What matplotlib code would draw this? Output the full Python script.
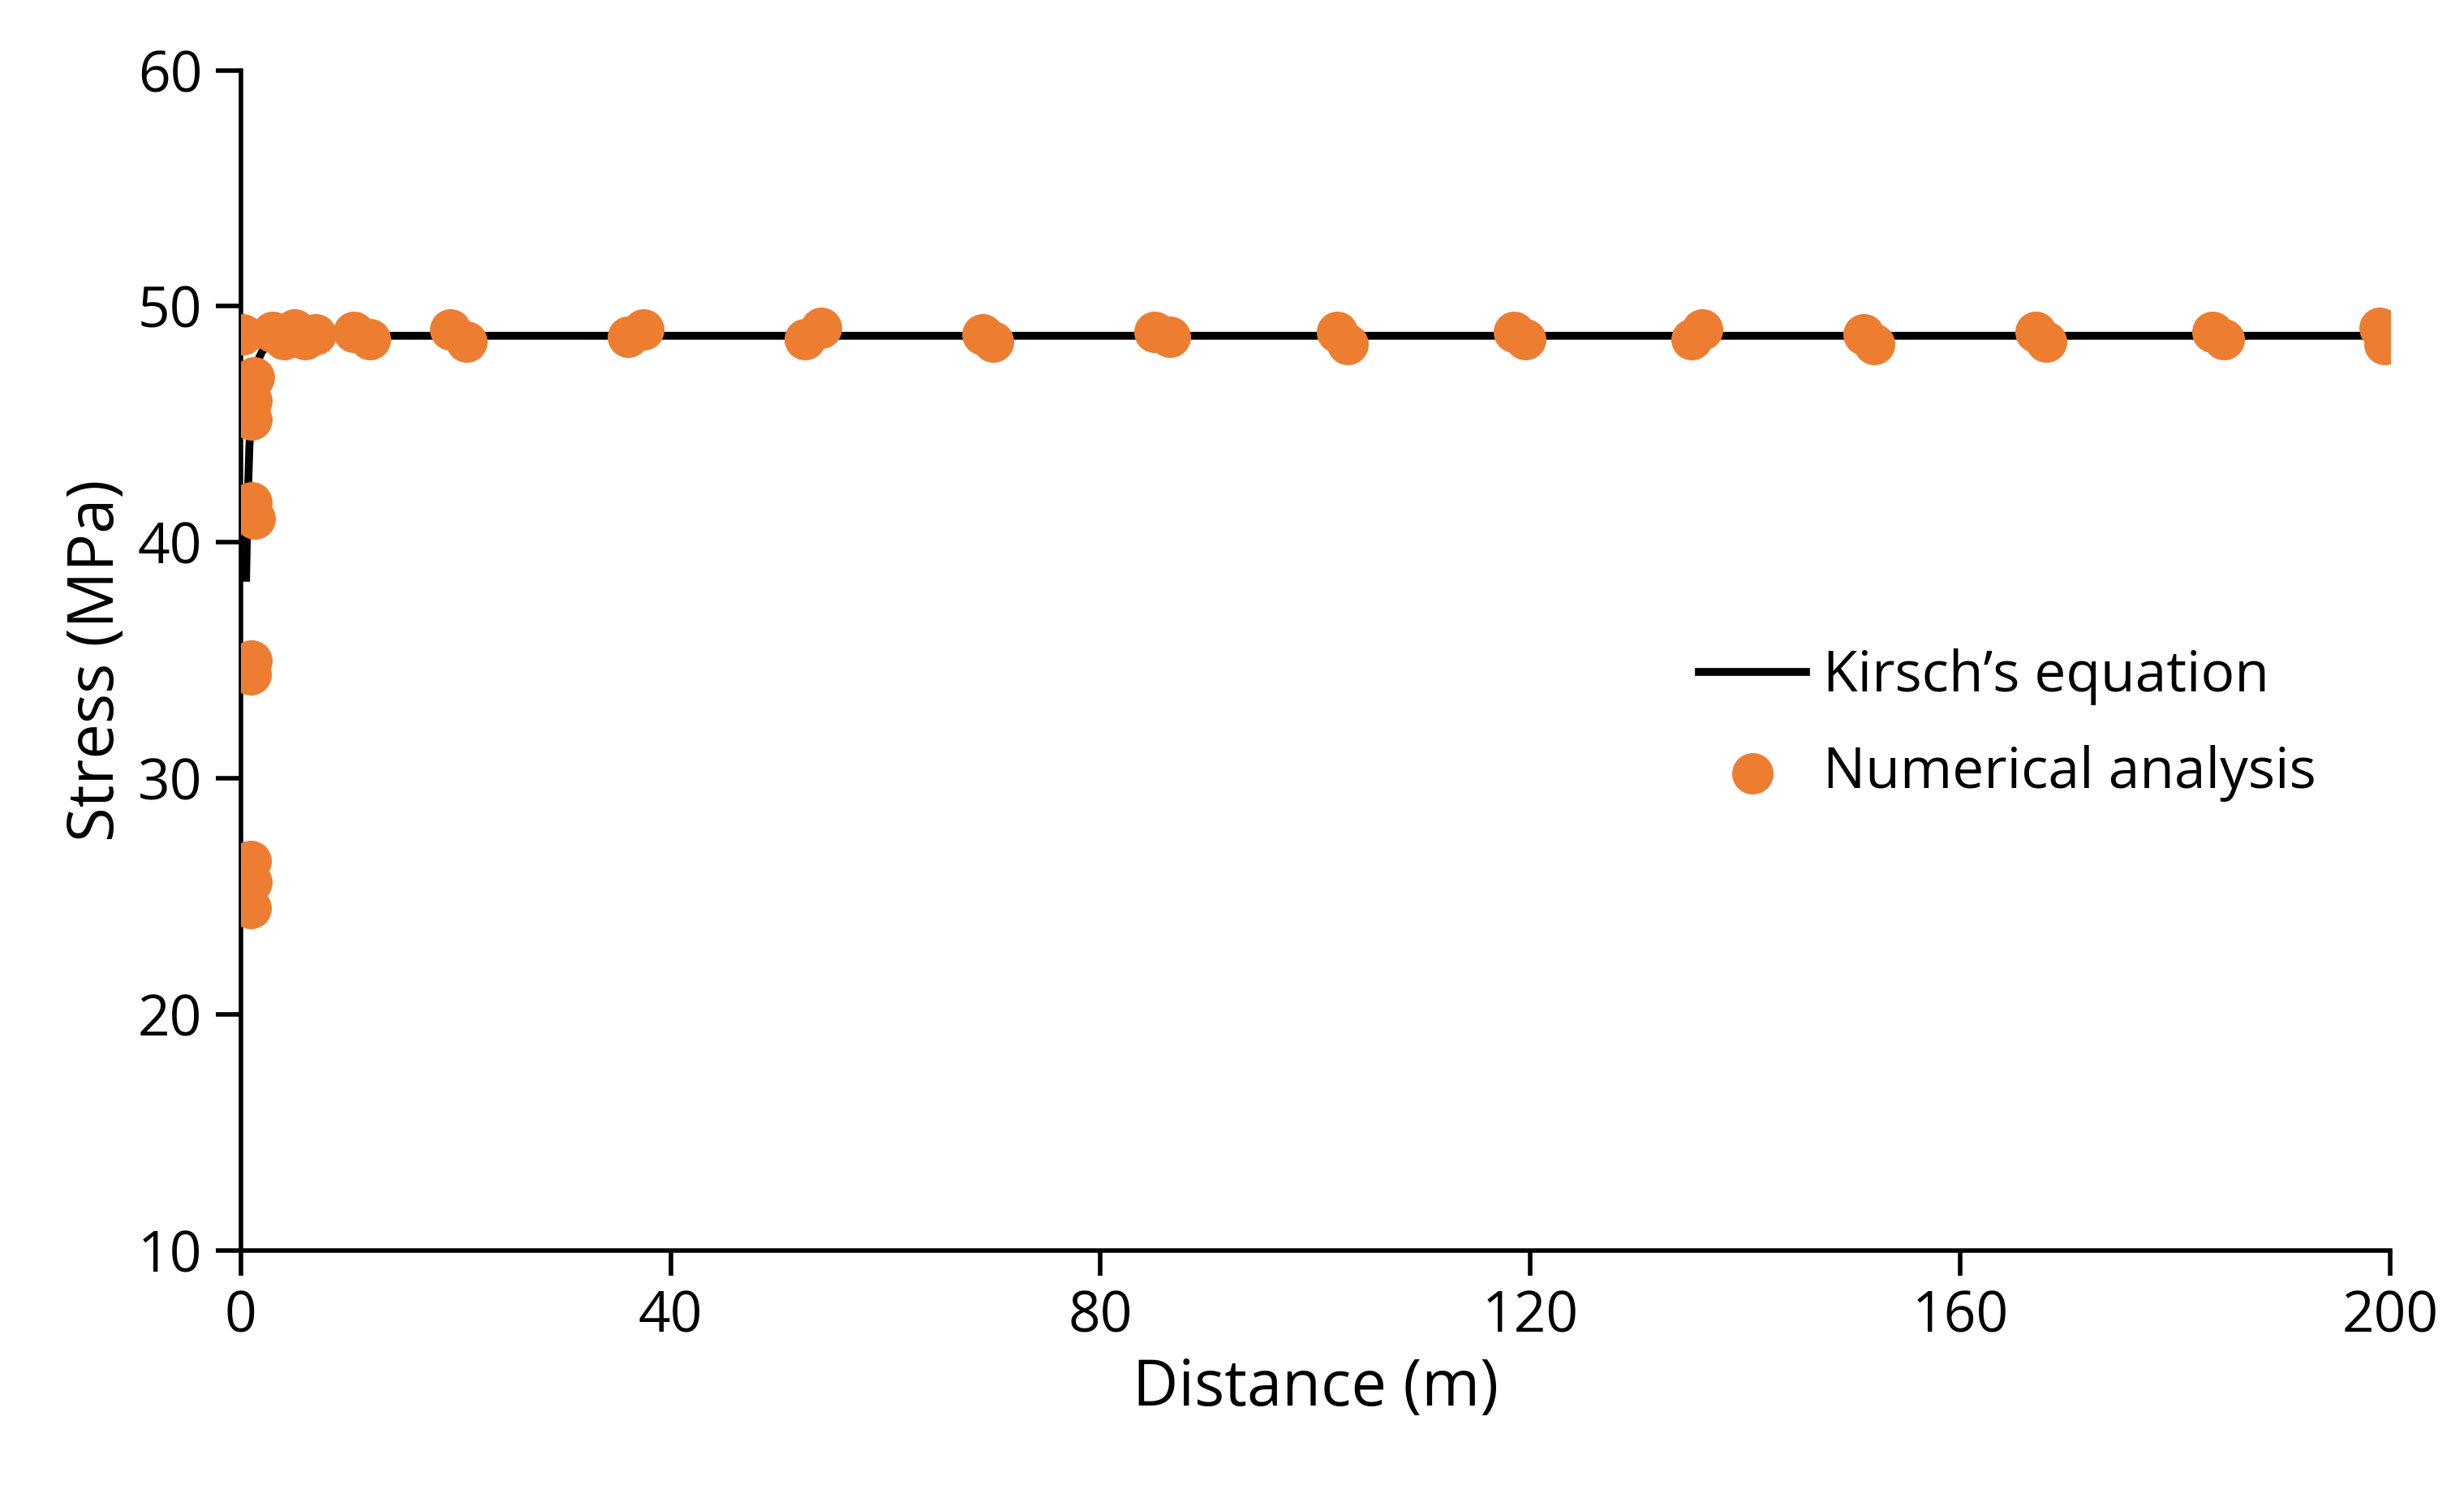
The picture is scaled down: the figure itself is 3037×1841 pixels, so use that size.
import matplotlib
matplotlib.use("Agg")
import matplotlib.pyplot as plt

plt.rcParams['font.family'] = ['Open Sans', 'DejaVu Sans']

kirsch_x = [0.5, 0.6, 0.8, 1.0, 1.3, 1.6, 2.0, 3.0, 5.0, 10, 50, 100, 150, 200]
kirsch_y = [38.5, 41.0, 44.0, 45.8, 47.0, 47.7, 48.1, 48.5, 48.7, 48.75, 48.75, 48.75, 48.75, 48.75]

num_x = [0.2, 1.0, 1.0, 1.2, 1.0, 1.3, 1.0, 0.9, 0.9, 1.0, 0.9, 3.0, 4.0, 5.0, 6.0, 7.0,
         10.5, 12, 19.5, 21, 36, 37.5, 52.5, 54, 69, 70, 85, 86.5, 102, 103, 118.5, 119.5,
         135, 136, 151, 152, 167, 168, 183.5, 184.5, 199, 199.5]
num_y = [48.8, 46.0, 45.2, 47.0, 41.7, 41.0, 35.0, 34.4, 26.5, 25.6, 24.5, 48.9, 48.6, 49.0, 48.6, 48.8,
         48.9, 48.6, 49.0, 48.5, 48.7, 49.0, 48.6, 49.1, 48.8, 48.5, 48.9, 48.7, 48.9, 48.4, 48.9, 48.6,
         48.6, 49.0, 48.8, 48.4, 48.9, 48.5, 48.9, 48.6, 49.1, 48.4]

x_ticks = [0, 40, 80, 120, 160, 200]
y_ticks = [10, 20, 30, 40, 50, 60]

fig = plt.figure(figsize=(30.37, 18.41), dpi=100)
ax = fig.add_axes([0.0977, 0.163, 0.8723, 0.79])
ax.plot(kirsch_x, kirsch_y, color='black', lw=7, label='Kirsch\u2019s equation', zorder=2)
ax.scatter(num_x, num_y, s=1350, color='#ED7D31', label='Numerical analysis', zorder=3, linewidths=0)
ax.set_xlim(0, 200)
ax.set_ylim(10, 60)
ax.set_xticks(x_ticks)
ax.set_yticks(y_ticks)
for s in ['top', 'right']:
    ax.spines[s].set_visible(False)
for s in ['left', 'bottom']:
    ax.spines[s].set_linewidth(4)
ax.tick_params(width=4, length=22, labelsize=50, direction='out', pad=12)
ax.set_xlabel('Distance (m)', fontsize=56, labelpad=10)
ax.set_ylabel('Stress (MPa)', fontsize=56, labelpad=8)
ax.legend(loc='center left', bbox_to_anchor=(0.655, 0.445), frameon=False, fontsize=50,
          handlelength=1.9, labelspacing=0.7, handletextpad=0.3)
fig.savefig('out.png', dpi=100, facecolor='white')
